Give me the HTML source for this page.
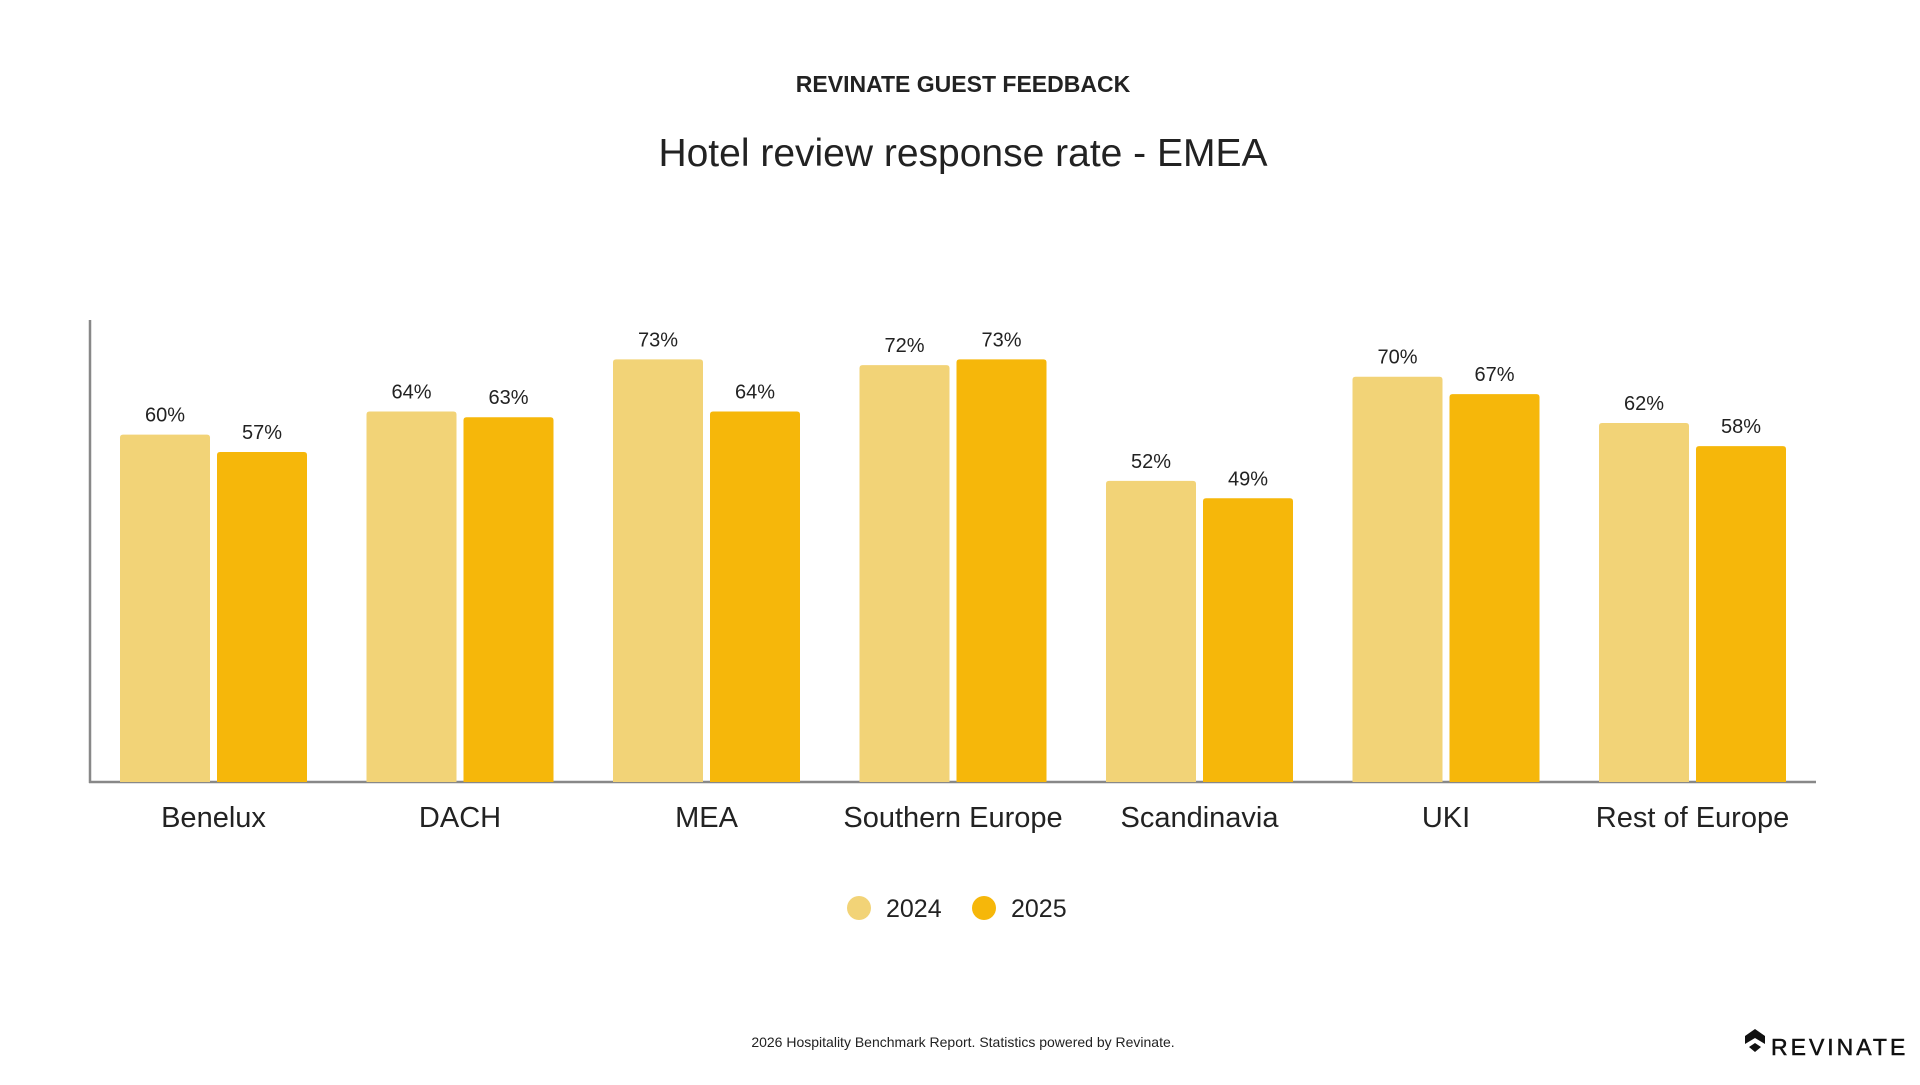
<!DOCTYPE html>
<html><head><meta charset="utf-8"><style>
html,body{margin:0;padding:0;background:#fff;}
body{width:1920px;height:1080px;overflow:hidden;font-family:"Liberation Sans",sans-serif;}
</style></head><body>
<svg width="1920" height="1080" viewBox="0 0 1920 1080" xmlns="http://www.w3.org/2000/svg" font-family="Liberation Sans, sans-serif">
<text x="963" y="92" text-anchor="middle" font-size="23" font-weight="bold" fill="#222">REVINATE GUEST FEEDBACK</text>
<text x="963" y="166" text-anchor="middle" font-size="39" fill="#222">Hotel review response rate - EMEA</text>
<line x1="90" y1="320" x2="90" y2="783" stroke="#888" stroke-width="2.5"/>
<line x1="89" y1="782" x2="1816" y2="782" stroke="#888" stroke-width="2.5"/>
<g id="bars"></g>
<circle cx="859" cy="908" r="12" fill="#F2D377"/>
<text x="886" y="917" font-size="25" fill="#222">2024</text>
<circle cx="984" cy="908" r="12" fill="#F6B70A"/>
<text x="1011" y="917" font-size="25" fill="#222">2025</text>
<text x="963" y="1047" text-anchor="middle" font-size="14" fill="#222">2026 Hospitality Benchmark Report. Statistics powered by Revinate.</text>
<path d="M1745 1036 l10 -7 l10 7 v8 l-10 -6 l-10 6 z M1749 1047 l6 -4 l6 4 l-6 5 z" fill="#111"/>
<text x="1771" y="1055" font-size="23" letter-spacing="3" fill="#111" stroke="#111" stroke-width="0.5">REVINATE</text>
</svg>
<script>
var d=[["Benelux",60,57],["DACH",64,63],["MEA",73,64],["Southern Europe",72,73],["Scandinavia",52,49],["UKI",70,67],["Rest of Europe",62,58]];
var g=document.getElementById("bars"),s="";
d.forEach(function(r,i){
 var x=120+i*246.5;
 [[r[1],"#F2D377",x],[r[2],"#F6B70A",x+97]].forEach(function(b){
  var h=b[0]*5.79,y=782-h;
  s+='<path d="M'+b[2]+' 782 V'+(y+3)+' q0 -3 3 -3 h84 q3 0 3 3 V782 z" fill="'+b[1]+'"/>';
  s+='<text x="'+(b[2]+45)+'" y="'+(y-13)+'" text-anchor="middle" font-size="20" fill="#222">'+b[0]+'%</text>';
 });
 s+='<text x="'+(x+93.5)+'" y="827" text-anchor="middle" font-size="29" fill="#222">'+r[0]+'</text>';
});
g.innerHTML=s;
</script>
</body></html>
